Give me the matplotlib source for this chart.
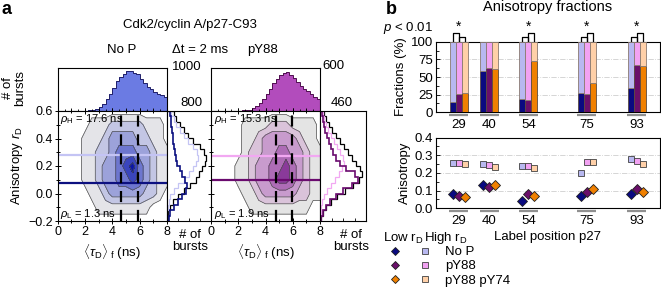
import numpy as np
import matplotlib.pyplot as plt
from matplotlib.ticker import MultipleLocator
from matplotlib.legend_handler import HandlerTuple
from matplotlib.lines import Line2D

plt.rcParams['font.family'] = ['Liberation Sans', 'DejaVu Sans']
plt.rcParams['mathtext.fontset'] = 'custom'
plt.rcParams['mathtext.rm'] = 'Liberation Sans'
plt.rcParams['mathtext.it'] = 'Liberation Sans:italic'
plt.rcParams['font.size'] = 9

# ---------------- panel a data ----------------
tau_edges = np.arange(0, 8.001, 0.25)
rd_edges = np.arange(-0.2, 0.601, 0.04)

# top histograms (# of bursts vs <tau_D>_f)
tau_hist_nop = [0, 0, 0, 0, 0, 0, 0, 5, 8, 12, 25, 50, 90, 160, 270, 390,
                520, 680, 780, 850, 930, 910, 880, 840, 740, 640, 560, 500, 440, 400, 360, 330]
tau_hist_py88 = [0, 0, 0, 0, 0, 0, 0, 3, 5, 8, 12, 20, 40, 70, 110, 170,
                 240, 310, 380, 440, 490, 530, 540, 500, 450, 400, 350, 310, 270, 230, 200, 170]

# right histograms (# of bursts vs r_D): total, low, high
rd_total_nop = [10, 20, 50, 100, 200, 300, 420, 520, 580, 640, 690, 700, 680, 600, 480, 380, 300, 230, 170, 120]
rd_low_nop = [30, 60, 120, 200, 280, 340, 360, 330, 280, 230, 190, 160, 140, 120, 110, 100, 90, 80, 70, 60]
rd_high_nop = [0, 5, 10, 30, 60, 120, 200, 300, 400, 480, 530, 560, 540, 480, 380, 300, 230, 170, 120, 80]
rd_total_py88 = [10, 30, 60, 110, 170, 250, 330, 390, 420, 400, 360, 320, 280, 240, 200, 160, 120, 90, 60, 40]
rd_low_py88 = [10, 25, 55, 100, 160, 230, 320, 380, 350, 260, 200, 160, 130, 110, 90, 70, 50, 40, 30, 20]
rd_high_py88 = [0, 5, 10, 20, 40, 70, 110, 150, 190, 220, 235, 230, 200, 170, 140, 110, 80, 60, 40, 25]

# 2D histogram levels (rows: r_D = -0.2 ... 0.6, cols: tau = 0 ... 8)
grid_tau = np.arange(0, 8.001, 0.5)
grid_rd = np.arange(-0.2, 0.601, 0.1)
levels_nop = [
    [0, 0, 0, 0, 0, 0, 0, 0, 0, 0, 0, 0, 0, 0, 0, 0, 0],
    [0, 0, 0, 0, 0, 0, 1, 1, 1, 1, 1, 1, 1, 1, 0, 0, 0],
    [0, 0, 0, 0, 0, 1, 1, 2, 3, 3, 3, 3, 3, 2, 2, 1, 0],
    [0, 0, 0, 0, 1, 1, 2, 3, 3, 4, 4, 5, 4, 3, 2, 1, 1],
    [0, 0, 0, 0, 1, 1, 2, 3, 3, 4, 5, 6, 4, 3, 2, 1, 1],
    [0, 0, 0, 0, 1, 1, 2, 2, 3, 4, 4, 4, 3, 3, 2, 1, 1],
    [0, 0, 0, 0, 1, 1, 1, 2, 3, 3, 3, 3, 2, 2, 1, 1, 0],
    [0, 0, 0, 0, 0, 1, 1, 1, 2, 2, 2, 2, 2, 1, 1, 1, 0],
    [0, 0, 0, 0, 0, 0, 0, 0, 0, 0, 0, 0, 0, 0, 0, 0, 0],
]
levels_py88 = [
    [0, 0, 0, 0, 0, 0, 0, 0, 0, 0, 0, 0, 0, 0, 0, 0, 0],
    [0, 0, 0, 0, 0, 0, 1, 1, 1, 1, 1, 1, 1, 1, 1, 0, 0],
    [0, 0, 0, 0, 0, 1, 1, 2, 3, 3, 3, 3, 3, 2, 2, 1, 1],
    [0, 0, 0, 0, 1, 1, 2, 3, 3, 4, 5, 5, 4, 3, 2, 1, 1],
    [0, 0, 0, 0, 1, 1, 2, 3, 3, 4, 4, 5, 4, 3, 2, 1, 1],
    [0, 0, 0, 0, 0, 1, 2, 2, 3, 3, 4, 4, 3, 3, 2, 1, 1],
    [0, 0, 0, 0, 0, 1, 1, 2, 3, 3, 3, 3, 3, 2, 1, 1, 0],
    [0, 0, 0, 0, 0, 1, 1, 1, 1, 2, 2, 2, 1, 1, 1, 1, 0],
    [0, 0, 0, 0, 0, 0, 0, 0, 0, 0, 0, 0, 0, 0, 0, 0, 0],
]
rd_line_high = [0.28, 0.27]
rd_line_low = [0.08, 0.10]
tau_dash = [[4.6, 5.9], [4.75, 5.95]]

# ---------------- panel b data ----------------
positions = np.array([29, 40, 54, 75, 93])
frac_low_nop = [14, 59, 19, 28, 34]
frac_low_py88 = [26, 63, 18, 26, 67]
frac_low_py74 = [27, 62, 73, 41, 66]

aniso_low_nop = [0.083, 0.130, 0.040, 0.071, 0.081]
aniso_low_py88 = [0.071, 0.118, 0.083, 0.090, 0.109]
aniso_low_py74 = [0.062, 0.131, 0.071, 0.109, 0.090]
aniso_high_nop = [0.257, 0.250, 0.240, 0.200, 0.278]
aniso_high_py88 = [0.257, 0.242, 0.240, 0.260, 0.266]
aniso_high_py74 = [0.250, 0.231, 0.230, 0.260, 0.250]
err_low_py88 = [0.005, 0.005, 0.005, 0.005, 0.015]
err_high_py88 = [0.004, 0.004, 0.004, 0.004, 0.012]

# significance brackets: (group index, bar i, bar j, high?)
brackets = [(0, 0, 1, True), (0, 1, 2, False),
            (2, 0, 1, False), (2, 1, 2, True),
            (3, 0, 1, False), (3, 1, 2, True),
            (4, 0, 1, False), (4, 1, 2, True)]

# ---------------- figure ----------------
W, H = 661, 289
fig = plt.figure(figsize=(W / 100, H / 100), dpi=100)


def px_axes(x0, y0, x1, y1):
    return fig.add_axes([x0 / W, 1 - y1 / H, (x1 - x0) / W, (y1 - y0) / H])


def px_text(x, y, s, **kw):
    kw.setdefault('ha', 'center')
    kw.setdefault('va', 'center')
    fig.text(x / W, 1 - y / H, s, **kw)


panels = [
    dict(x0=57.7, x1=167, rx1=211, hist=tau_hist_nop, ymax=1000, rmax=800,
         tot=rd_total_nop, low=rd_low_nop, high=rd_high_nop, lev=levels_nop,
         fill='#6b7be3', dark='#0c1080', light='#c4c4f4',
         cols=['#e4e4e8', '#c3c6e4', '#9ca2da', '#6d76cf', '#3a45bd', '#0b16a6']),
    dict(x0=211, x1=320, rx1=366, hist=tau_hist_py88, ymax=600, rmax=460,
         tot=rd_total_py88, low=rd_low_py88, high=rd_high_py88, lev=levels_py88,
         fill='#b24cbc', dark='#6a0a6e', light='#f2a8f2',
         cols=['#e4e4e4', '#dac3da', '#c89bcd', '#ae6cb6', '#8a3a9a', '#690b76']),
]

for k, p in enumerate(panels):
    # top histogram
    axt = px_axes(p['x0'], 67.5, p['x1'], 111)
    axt.stairs(p['hist'], tau_edges, fill=True, color=p['fill'])
    axt.stairs(p['hist'], tau_edges, color='#20206a' if k == 0 else '#501050', lw=0.7)
    axt.set_xlim(0, 8)
    axt.set_ylim(0, p['ymax'])
    axt.set_yticks([])
    axt.xaxis.set_major_locator(MultipleLocator(1))
    axt.xaxis.set_minor_locator(MultipleLocator(0.5))
    axt.tick_params(axis='x', which='both', direction='in', labelbottom=False, length=2.5, width=0.6)
    axt.tick_params(axis='x', which='minor', length=1.5)
    for s in axt.spines.values():
        s.set_linewidth(0.8)

    # 2D histogram
    ax2 = px_axes(p['x0'], 111, p['x1'], 221)
    ax2.contourf(grid_tau, grid_rd, p['lev'], levels=[0.5, 1.5, 2.5, 3.5, 4.5, 5.5, 6.5],
                 colors=p['cols'])
    ax2.contour(grid_tau, grid_rd, p['lev'], levels=[0.5, 1.5, 2.5, 3.5, 4.5, 5.5],
                colors='#505050', linewidths=0.5)
    ax2.axhline(rd_line_high[k], color=p['light'], lw=1.6)
    ax2.axhline(rd_line_low[k], color=p['dark'], lw=1.6)
    for t in tau_dash[k]:
        ax2.axvline(t, color='black', lw=1.6, ls=(0, (5, 3.5)))
    ax2.set_xlim(0, 8)
    ax2.set_ylim(-0.2, 0.6)
    ax2.set_xticks([0, 2, 4, 6, 8])
    ax2.set_yticks([-0.2, 0.0, 0.2, 0.4, 0.6])
    ax2.xaxis.set_minor_locator(MultipleLocator(1))
    ax2.yaxis.set_minor_locator(MultipleLocator(0.1))
    ax2.tick_params(which='both', direction='inout', length=4, width=0.7, labelsize=9, pad=1.5,
                    top=True, right=False)
    ax2.tick_params(which='minor', length=2.5)
    if k == 0:
        ax2.yaxis.set_major_formatter(lambda v, pos: f'{v:.1f}'.replace('-', '\u2212'))
        ax2.set_ylabel(r'Anisotropy $r_\mathrm{D}$', fontsize=9.5, labelpad=2)
    else:
        ax2.set_yticklabels([])
    for s in ax2.spines.values():
        s.set_linewidth(0.8)
    ax2.set_xlabel(r'$\langle\tau_\mathrm{D}\rangle_\mathrm{\ f}$ (ns)', fontsize=9.5, labelpad=3)
    ax2.text(0.2, 0.54, r'$\rho_\mathrm{H}$ = ' + ('17.6' if k == 0 else '15.3') + ' ns',
             fontsize=8, va='center', ha='left')
    ax2.text(0.2, -0.15, r'$\rho_\mathrm{L}$ = ' + ('1.3' if k == 0 else '1.9') + ' ns',
             fontsize=8, va='center', ha='left')

    # right histogram
    axr = px_axes(p['x1'], 111, p['rx1'], 221)
    axr.stairs(p['tot'], rd_edges, orientation='horizontal', color='black', lw=0.9)
    axr.stairs(p['high'], rd_edges, orientation='horizontal', color=p['light'], lw=0.9)
    axr.stairs(p['low'], rd_edges, orientation='horizontal', color=p['dark'], lw=1.2)
    axr.set_ylim(-0.2, 0.6)
    axr.set_xlim(0, p['rmax'])
    axr.set_yticks([])
    axr.xaxis.set_major_locator(MultipleLocator(p['rmax'] / 4))
    axr.tick_params(axis='x', direction='in', labelbottom=False, length=2.5, width=0.6)
    for s in axr.spines.values():
        s.set_linewidth(0.8)
    if k == 0:
        axr.spines['right'].set_visible(False)

# panel a texts
px_text(6, 9, 'a', fontsize=13, fontweight='bold')
px_text(190, 25, 'Cdk2/cyclin A/p27-C93', fontsize=9.5)
px_text(122, 50, 'No P', fontsize=9.5)
px_text(200, 50, '\u0394t = 2 ms', fontsize=9.5)
px_text(263, 50, 'pY88', fontsize=9.5)
px_text(172, 67, '1000', fontsize=9.5, ha='left')
px_text(180, 103, '800', fontsize=9.5, ha='left')
px_text(322, 66, '600', fontsize=9.5, ha='left')
px_text(331, 103, '460', fontsize=9.5, ha='left')
px_text(14, 88, '# of\nbursts', fontsize=9.5, rotation=90, linespacing=1.1)
px_text(190, 241, '# of\nbursts', fontsize=9.5, linespacing=1.1)
px_text(351, 241, '# of\nbursts', fontsize=9.5, linespacing=1.1)

# ---------------- panel b ----------------
c_dark = ['#0a0a80', '#6a0f6a', '#f08000']
c_light = ['#b8b8f0', '#f2a2f2', '#ffd0a8']
bw = 2.14
offs = [-bw, 0, bw]
fracs = [frac_low_nop, frac_low_py88, frac_low_py74]
xlim_b = (20.8, 101.3)

axu = px_axes(436, 41.7, 660, 112.3)
for i in range(3):
    low = np.array(fracs[i])
    axu.bar(positions + offs[i], low, bw, color=c_dark[i], edgecolor='#5a4a40', lw=0.6, zorder=3)
    axu.bar(positions + offs[i], 100 - low, bw, bottom=low, color=c_light[i],
            edgecolor='#8a7a70', lw=0.6, zorder=3)
axu.set_xlim(*xlim_b)
axu.set_ylim(0, 100)
axu.set_yticks([0, 25, 50, 75, 100])
axu.yaxis.set_minor_locator(MultipleLocator(12.5))
axu.yaxis.grid(True, ls='-.', color='#cfcfcf', lw=0.6)
axu.set_axisbelow(True)
axu.set_xticks(positions)
axu.set_xticklabels([str(v) for v in positions])
axu.tick_params(axis='x', length=0, labelsize=9.5, pad=5)
axu.tick_params(axis='y', which='both', direction='in', length=3, width=0.6, labelsize=9.5, pad=2)
axu.tick_params(axis='y', which='minor', length=1.8)
axu.set_ylabel('Fractions (%)', fontsize=9.5, labelpad=3)
axu.set_title('Anisotropy fractions', fontsize=10.5, pad=22)
for s in axu.spines.values():
    s.set_linewidth(0.8)

for g, i, j, high in brackets:
    ytop = 113 if high else 106.5
    xa = positions[g] + offs[i]
    xb = positions[g] + offs[j]
    axu.plot([xa, xa, xb, xb], [100, ytop, ytop, 100], color='black', lw=0.9, clip_on=False)
for g in [0, 2, 3, 4]:
    axu.text(positions[g], 121, '*', ha='center', va='center', fontsize=10)

axl = px_axes(436, 137.5, 660, 208.3)
lows = [aniso_low_nop, aniso_low_py88, aniso_low_py74]
highs = [aniso_high_nop, aniso_high_py88, aniso_high_py74]
for i in range(3):
    eh = err_high_py88 if i == 1 else None
    el = err_low_py88 if i == 1 else None
    axl.errorbar(positions + offs[i], highs[i], yerr=eh, fmt='s', ms=4.8, mfc=c_light[i],
                 mec='#404040', mew=0.6, ecolor=c_dark[i], elinewidth=0.8, capsize=1.5, zorder=3)
    axl.errorbar(positions + offs[i], lows[i], yerr=el, fmt='D', ms=4.8, mfc=c_dark[i],
                 mec='#202020', mew=0.6, ecolor=c_dark[i], elinewidth=0.8, capsize=1.5, zorder=3)
axl.set_xlim(*xlim_b)
axl.set_ylim(0, 0.4)
axl.set_yticks([0, 0.1, 0.2, 0.3, 0.4])
axl.yaxis.set_major_formatter(lambda v, pos: f'{v:.1f}')
axl.yaxis.set_minor_locator(MultipleLocator(0.05))
axl.yaxis.grid(True, ls='-.', color='#cfcfcf', lw=0.6)
axl.set_axisbelow(True)
axl.set_xticks(positions)
axl.set_xticklabels([str(v) for v in positions])
axl.tick_params(axis='x', length=0, labelsize=9.5, pad=5)
axl.tick_params(axis='y', which='both', direction='in', length=3, width=0.6, labelsize=9.5, pad=2)
axl.tick_params(axis='y', which='minor', length=1.8)
axl.set_ylabel('Anisotropy', fontsize=9.5, labelpad=3)
axl.set_xlabel('Label position p27', fontsize=9.5, labelpad=3)
for s in axl.spines.values():
    s.set_linewidth(0.8)

# grey underlines below group labels
for ax in (axu, axl):
    tr = ax.get_xaxis_transform()
    for pos in positions:
        ax.plot([pos - 1.6 * bw, pos + 1.6 * bw], [-0.045, -0.045], color='#909090', lw=1.6,
                transform=tr, clip_on=False, solid_capstyle='butt')

px_text(391, 9, 'b', fontsize=13, fontweight='bold')
px_text(383, 28, r'$p$ < 0.01', fontsize=9.5, ha='left')
px_text(383, 238, r'Low r$_\mathrm{D}$', fontsize=9.5, ha='left')
px_text(424, 238, r'High r$_\mathrm{D}$', fontsize=9.5, ha='left')

names = ['No P', 'pY88', 'pY88 pY74']
handles = []
for i in range(3):
    d = Line2D([], [], ls='none', marker='D', ms=4.5, mfc=c_dark[i], mec='#202020', mew=0.6)
    s = Line2D([], [], ls='none', marker='s', ms=4.5, mfc=c_light[i], mec='#404040', mew=0.6)
    handles.append((d, s))
fig.legend(handles, names, handler_map={tuple: HandlerTuple(ndivide=None, pad=1.6)},
           loc='upper left', bbox_to_anchor=(391 / W, 1 - 246 / H), frameon=False,
           handlelength=2.9, handletextpad=1.2, borderpad=0, borderaxespad=0,
           labelspacing=0.15, fontsize=9.5)

fig.savefig('out.png', dpi=100)
